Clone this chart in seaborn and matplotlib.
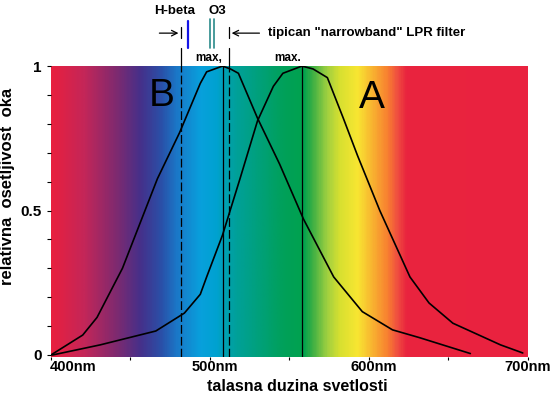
import numpy as np
import pandas as pd
import seaborn as sns
import matplotlib.pyplot as plt
from matplotlib.colors import LinearSegmentedColormap, Normalize

# skotopska kriva (B) - talasna duzina (nm) i relativna osetljivost
b_nm = [400, 420, 429, 445, 467, 481, 494, 498, 508, 513, 518, 530, 544, 559, 578, 596, 615, 632, 664]
b_val = [0.0, 0.069, 0.13, 0.30, 0.61, 0.77, 0.94, 0.98, 1.0, 0.99, 0.975, 0.82, 0.66, 0.47, 0.27, 0.15, 0.087, 0.06, 0.005]

# fotopska kriva (A)
a_nm = [401, 431, 466, 484, 494, 498, 508, 519, 530, 540, 546, 558, 565, 574, 584, 593, 607, 626, 638, 653, 683, 697]
a_val = [0.0, 0.035, 0.083, 0.145, 0.21, 0.27, 0.415, 0.61, 0.81, 0.93, 0.975, 1.0, 0.99, 0.96, 0.82, 0.69, 0.50, 0.27, 0.18, 0.11, 0.035, 0.007]

peak_nm = [508, 558]          # max. B i A
filter_nm = [482, 512]        # granice LPR filtera
hbeta_nm = [486]
o3_nm = [500, 502.5]

# boje spektra
spec_nm = [400, 420, 441, 456, 469, 479, 494, 504, 510, 517, 546, 559, 565, 574, 582, 593, 603, 612, 618, 624, 700]
spec_col = ['#e8203f', '#c42658', '#7d2a70', '#45308a', '#2a50a8', '#1a78c8', '#08a0dc', '#00a2d0',
            '#00a0b0', '#00a098', '#00a05a', '#00a24e', '#40b044', '#a0d040', '#d8e030', '#f8e632',
            '#f8b030', '#f88030', '#f05040', '#e9243e', '#ea2240']

xtick_labels = ['400nm', '500nm', '600nm', '700nm']
xtick_label_pos = [414, 503, 603, 700]

sns.set_style("white")
plt.rcParams['font.family'] = ['Liberation Sans', 'DejaVu Sans']
plt.rcParams['text.color'] = 'black'
plt.rcParams['axes.labelcolor'] = 'black'
plt.rcParams['ytick.color'] = 'black'
plt.rcParams['xtick.color'] = 'black'

fig = plt.figure(figsize=(5.6, 3.98), dpi=100)
ax = fig.add_axes([0.091, 0.103, 0.851, 0.731])

y0, y1 = -0.007, 1.0
cmap = LinearSegmentedColormap.from_list(
    "spektar", [((n - 400) / 300, c) for n, c in zip(spec_nm, spec_col)])
grad = np.linspace(400, 700, 600)[None, :]
ax.imshow(grad, cmap=cmap, norm=Normalize(400, 700), extent=[400, 700, y0, y1],
          aspect='auto', zorder=0, interpolation='bilinear')

df_b = pd.DataFrame({'nm': b_nm, 'v': b_val})
df_a = pd.DataFrame({'nm': a_nm, 'v': a_val})
sns.lineplot(data=df_b, x='nm', y='v', color='black', lw=1.2, estimator=None, ax=ax, zorder=3)
sns.lineplot(data=df_a, x='nm', y='v', color='black', lw=1.2, estimator=None, ax=ax, zorder=3)

for p in peak_nm:
    ax.axvline(p, color='black', lw=0.9, zorder=2)
for f in filter_nm:
    ax.axvline(f, color='black', lw=0.9, dashes=(7, 2.5), zorder=2)
    # produzetak iznad grafika i oznaka strelice
    ax.plot([f, f], [1.0, 1.062], color='black', lw=0.9, clip_on=False)
    ax.plot([f, f], [1.097, 1.135], color='black', lw=0.9, clip_on=False)

for h in hbeta_nm:
    ax.plot([h, h], [1.062, 1.156], color='#1515e6', lw=1.6, clip_on=False)
for o in o3_nm:
    ax.plot([o, o], [1.062, 1.163], color='#2a8a8a', lw=1.2, clip_on=False)

ax.annotate('', xy=(filter_nm[0], 1.114), xytext=(filter_nm[0] - 15.5, 1.114),
            arrowprops=dict(arrowstyle='->', lw=0.9, color='black'), annotation_clip=False)
ax.annotate('', xy=(filter_nm[1], 1.114), xytext=(filter_nm[1] + 21, 1.114),
            arrowprops=dict(arrowstyle='->', lw=0.9, color='black'), annotation_clip=False)

ax.text(478, 1.19, 'H-beta', ha='center', va='center', fontsize=9.5, fontweight='bold')
ax.text(504.5, 1.19, 'O3', ha='center', va='center', fontsize=9.5, fontweight='bold')
ax.text(536.5, 1.114, 'tipican "narrowband" LPR filter', ha='left', va='center',
        fontsize=9.5, fontweight='bold')
ax.text(peak_nm[0] - 0.5, 1.028, 'max,', ha='right', va='center', fontsize=8.5, fontweight='bold')
ax.text(peak_nm[1] - 0.5, 1.028, 'max.', ha='right', va='center', fontsize=8.5, fontweight='bold')

ax.text(470, 0.896, 'B', ha='center', va='center', fontsize=28, color='black', zorder=4)
ax.text(602, 0.89, 'A', ha='center', va='center', fontsize=28, color='black', zorder=4)

ax.set_xlim(400, 700)
ax.set_ylim(y0, y1)
for s in ax.spines.values():
    s.set_visible(False)

ax.set_xticks(range(400, 701, 50))
ax.set_xticklabels([])
ax.tick_params(axis='x', direction='out', length=2.5, width=0.8, color='black', bottom=True)
for lab, pos in zip(xtick_labels, xtick_label_pos):
    ax.text(pos, -0.036, lab, transform=ax.get_xaxis_transform(), ha='center', va='center',
            fontsize=10.5, fontweight='bold')

ax.set_yticks([0, 0.5, 1])
ax.set_yticklabels(['0', '0.5', '1'], fontsize=11, fontweight='bold')
ax.set_yticks(np.arange(0, 1.01, 0.1), minor=True)
ax.tick_params(axis='y', which='both', direction='out', length=3, width=0.8, color='black',
               left=True, pad=3.5)

ax.set_xlabel('talasna duzina svetlosti', fontsize=11.5, fontweight='bold')
ax.xaxis.set_label_coords(0.517, -0.075)
ax.set_ylabel('relativna  osetljivost  oka', fontsize=12, fontweight='bold')
ax.yaxis.set_label_coords(-0.075, 0.587)

fig.savefig('out.png', dpi=100)
